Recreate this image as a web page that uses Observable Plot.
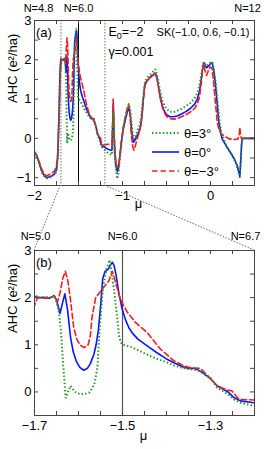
<!DOCTYPE html>
<html><head><meta charset="utf-8">
<script src="https://cdn.jsdelivr.net/npm/d3@7"></script>
<script src="https://cdn.jsdelivr.net/npm/@observablehq/plot@0.6"></script>
<style>
body{margin:0;background:#fff;}
#wrap{position:relative;width:266px;height:449px;}
#wrap svg{position:absolute;left:0;}
</style></head><body><div id="wrap"></div>
<script>
// ---- data: [mu, AHC] ----
const blue = [[-2.00,-0.35],[-1.97,-0.47],[-1.94,-0.68],[-1.91,-0.87],[-1.88,-0.97],[-1.86,-1.0],[-1.83,-0.98],[-1.80,-0.95],[-1.77,-0.9],[-1.75,-0.8],[-1.735,-0.45],[-1.72,0.7],[-1.71,1.7],[-1.70,2.02],
[-1.69,2.0],[-1.675,2.0],[-1.665,1.99],[-1.655,2.04],[-1.65,1.95],[-1.642,1.67],[-1.636,1.9],[-1.631,2.08],[-1.625,1.75],[-1.618,1.15],[-1.612,0.85],[-1.605,0.65],[-1.597,0.52],[-1.588,0.46],[-1.58,0.5],[-1.573,0.6],[-1.565,0.8],[-1.56,1.0],[-1.555,1.3],[-1.55,1.8],[-1.545,2.4],[-1.54,2.55],[-1.533,2.6],[-1.527,2.7],[-1.523,2.75],[-1.519,2.68],[-1.515,2.5],[-1.508,2.08],[-1.501,1.77],[-1.494,1.55],[-1.485,1.35],[-1.475,1.22],[-1.465,1.12],[-1.44,0.95],[-1.42,0.82],[-1.40,0.7],[-1.383,0.62],[-1.365,0.54],[-1.35,0.5],[-1.335,0.5],[-1.32,0.42],[-1.30,0.28],[-1.285,0.13],[-1.27,0.05],[-1.26,0.0],[-1.247,-0.12],[-1.232,-0.19],[-1.20,-0.23],
[-1.17,-0.27],[-1.14,-0.3],[-1.12,-0.3],[-1.112,0.3],[-1.105,0.9],[-1.098,0.3],[-1.088,-0.35],[-1.075,-0.7],[-1.058,-0.85],[-1.045,-0.75],[-1.03,-0.45],[-1.01,-0.05],[-0.99,0.25],[-0.965,0.5],[-0.945,0.68],[-0.925,0.78],[-0.91,0.55],[-0.895,0.15],[-0.875,-0.1],[-0.86,-0.05],[-0.84,0.05],[-0.815,0.15],[-0.795,0.3],[-0.78,0.55],[-0.765,0.95],[-0.75,1.3],[-0.735,1.42],[-0.715,1.48],[-0.69,1.55],[-0.66,1.6],[-0.63,1.66],[-0.61,1.55],[-0.59,1.3],[-0.57,1.05],[-0.55,0.85],[-0.53,0.72],[-0.5,0.6],[-0.46,0.55],[-0.42,0.55],[-0.38,0.57],[-0.33,0.62],[-0.28,0.68],[-0.23,0.76],[-0.18,0.87],[-0.15,1.0],[-0.125,1.2],[-0.105,1.5],[-0.088,1.8],[-0.076,1.93],[-0.06,1.85],[-0.042,1.8],[-0.02,1.85],[0.0,1.9],[0.019,1.93],[0.035,1.75],[0.055,1.4],[0.075,0.9],[0.095,0.41],[0.115,0.15],[0.133,-0.02],[0.18,-0.2],[0.227,-0.36],[0.27,-0.52],[0.303,-0.69],[0.322,-0.85],[0.333,-0.97],[0.343,-0.6],[0.352,-0.2],[0.36,0.0],[0.5,0.0]];

const green = [[-2.00,-0.36],[-1.97,-0.48],[-1.94,-0.7],[-1.91,-0.9],[-1.88,-0.99],[-1.86,-1.02],[-1.83,-1.0],[-1.80,-0.97],[-1.77,-0.92],[-1.75,-0.82],[-1.735,-0.45],[-1.72,0.7],[-1.71,1.7],[-1.70,2.05],
[-1.69,2.0],[-1.675,2.02],[-1.665,2.0],[-1.655,2.05],[-1.65,1.9],[-1.645,1.72],[-1.64,1.3],[-1.635,0.6],[-1.629,-0.13],[-1.624,0.0],[-1.618,0.13],[-1.61,0.02],[-1.603,-0.03],[-1.588,-0.05],[-1.575,-0.01],[-1.564,0.16],[-1.557,0.52],[-1.553,1.2],[-1.55,1.55],[-1.545,2.15],[-1.537,2.6],[-1.529,2.8],[-1.52,2.22],[-1.512,1.58],[-1.508,1.2],[-1.504,1.05],[-1.498,1.0],[-1.48,0.95],[-1.459,0.86],[-1.43,0.73],[-1.40,0.63],[-1.383,0.56],[-1.36,0.5],[-1.345,0.48],[-1.325,0.45],[-1.30,0.3],[-1.285,0.09],[-1.26,-0.05],[-1.247,-0.16],[-1.232,-0.23],[-1.20,-0.3],
[-1.17,-0.36],[-1.14,-0.4],[-1.12,-0.42],[-1.112,0.1],[-1.105,0.7],[-1.098,0.2],[-1.088,-0.4],[-1.075,-0.8],[-1.06,-1.03],[-1.045,-0.88],[-1.025,-0.4],[-1.005,0.0],[-0.985,0.35],[-0.96,0.6],[-0.94,0.78],[-0.925,0.85],[-0.91,0.7],[-0.895,0.35],[-0.88,0.05],[-0.87,-0.02],[-0.855,0.05],[-0.83,0.18],[-0.81,0.3],[-0.79,0.5],[-0.775,0.8],[-0.76,1.15],[-0.745,1.42],[-0.725,1.53],[-0.7,1.6],[-0.67,1.65],[-0.645,1.72],[-0.625,1.76],[-0.605,1.6],[-0.585,1.35],[-0.565,1.12],[-0.545,0.95],[-0.525,0.85],[-0.5,0.75],[-0.46,0.68],[-0.42,0.67],[-0.38,0.7],[-0.33,0.75],[-0.28,0.82],[-0.23,0.9],[-0.18,1.02],[-0.15,1.15],[-0.125,1.35],[-0.105,1.62],[-0.088,1.87],[-0.076,1.95],[-0.06,1.88],[-0.042,1.85],[-0.02,1.9],[0.0,1.93],[0.019,1.95],[0.035,1.8],[0.055,1.5],[0.075,1.05],[0.095,0.6],[0.114,0.24],[0.15,-0.02],[0.19,-0.23],[0.24,-0.42],[0.284,-0.61],[0.31,-0.8],[0.333,-1.0],[0.343,-0.6],[0.352,-0.2],[0.36,0.0],[0.5,0.0]];

const red = [[-2.00,-0.34],[-1.97,-0.45],[-1.94,-0.64],[-1.91,-0.83],[-1.88,-0.93],[-1.86,-0.95],[-1.83,-0.92],[-1.80,-0.88],[-1.77,-0.82],[-1.75,-0.7],[-1.735,-0.35],[-1.72,0.6],[-1.71,1.4],[-1.70,1.83],
[-1.693,2.0],[-1.675,1.99],[-1.665,2.0],[-1.655,2.03],[-1.648,1.9],[-1.642,2.1],[-1.636,2.4],[-1.630,2.56],[-1.624,2.35],[-1.618,1.94],[-1.611,1.37],[-1.604,1.12],[-1.596,0.99],[-1.587,0.94],[-1.578,1.0],[-1.573,1.2],[-1.569,1.6],[-1.561,2.0],[-1.546,2.18],[-1.531,2.36],[-1.523,2.56],[-1.516,2.33],[-1.505,1.97],[-1.489,1.69],[-1.47,1.47],[-1.444,1.26],[-1.414,0.91],[-1.383,0.66],[-1.36,0.55],[-1.345,0.51],[-1.323,0.5],[-1.305,0.33],[-1.285,0.13],[-1.265,0.05],[-1.251,0.02],[-1.239,-0.12],[-1.232,-0.16],[-1.2,-0.17],
[-1.17,-0.15],[-1.14,-0.15],[-1.12,-0.15],[-1.113,0.3],[-1.106,1.0],[-1.099,0.45],[-1.09,-0.15],[-1.077,-0.55],[-1.06,-0.75],[-1.045,-0.7],[-1.03,-0.45],[-1.012,-0.05],[-0.99,0.3],[-0.965,0.58],[-0.945,0.78],[-0.93,0.88],[-0.915,0.6],[-0.9,0.1],[-0.885,-0.2],[-0.87,-0.3],[-0.855,-0.2],[-0.835,-0.02],[-0.81,0.15],[-0.79,0.35],[-0.775,0.65],[-0.76,1.05],[-0.745,1.35],[-0.725,1.45],[-0.7,1.52],[-0.67,1.57],[-0.645,1.62],[-0.625,1.64],[-0.605,1.5],[-0.585,1.2],[-0.565,0.95],[-0.545,0.78],[-0.525,0.66],[-0.5,0.56],[-0.46,0.5],[-0.42,0.49],[-0.38,0.5],[-0.33,0.55],[-0.28,0.6],[-0.23,0.67],[-0.18,0.76],[-0.15,0.88],[-0.125,1.05],[-0.105,1.4],[-0.09,1.75],[-0.076,1.9],[-0.062,1.72],[-0.045,1.6],[-0.025,1.72],[-0.005,1.82],[0.015,1.8],[0.03,1.55],[0.05,1.05],[0.065,0.7],[0.076,0.41],[0.1,0.2],[0.125,0.1],[0.151,0.07],[0.2,0.0],[0.25,-0.03],[0.31,-0.02],[0.325,0.06],[0.333,0.28],[0.34,0.12],[0.35,0.0],[0.5,0.0]];

const seriesNames = ["θ=3°", "θ=0°", "θ=−3°"];
const xTicksA = [-2,-1.75,-1.5,-1.25,-1,-0.75,-0.5,-0.25,0,0.25,0.5];
const xLabelsA = [-2,-1,0];
const yTicksA = [-1,-0.5,0,0.5,1,1.5,2,2.5,3];
const yLabelsA = [-1,0,1,2,3];
const xTicksB = [-1.7,-1.65,-1.6,-1.55,-1.5,-1.45,-1.4,-1.35,-1.3,-1.25,-1.2];
const xLabelsB = [-1.7,-1.5,-1.3];
const yTicksB = [-0.5,0,0.5,1,1.5,2,2.5,3];
const yLabelsB = [0,1,2,3];
const zoomRange = [-1.7, -1.2];
const fermiMu = [-1.5];
const nLabelsA = [{mu:-2, t:"N=4.8"},{mu:-1.5, t:"N=6.0"},{mu:0.5, t:"N=12"}];
const nLabelsB = [{mu:-1.7, t:"N=5.0"},{mu:-1.5, t:"N=6.0"},{mu:-1.2, t:"N=6.7"}];

// ---- styles ----
const font = '"Liberation Sans", Arial, Helvetica, sans-serif';
const C = {green:"#1e961e", blue:"#0a14ff", red:"#ff1a1a", frame:"#444"};
const DASH = {green: "1.4,2.2", red: "5.5,3"};
const W = 266, ML = 34, MR = 12;
const rows = a => a.map(([mu, v]) => ({mu, v}));

function curves() {
  return [
    Plot.line(rows(blue), {x:"mu", y:"v", stroke:C.blue, strokeWidth:1.6, clip:true}),
    Plot.line(rows(red), {x:"mu", y:"v", stroke:C.red, strokeWidth:1.6, strokeDasharray:DASH.red, clip:true}),
    Plot.line(rows(green), {x:"mu", y:"v", stroke:C.green, strokeWidth:2, strokeDasharray:DASH.green, strokeLinecap:"butt", strokeLinejoin:"miter", clip:true})
  ];
}

function panel(o) {
  const fw = W - ML - MR, fh = o.height - o.marginTop - o.marginBottom;
  return Plot.plot({
    width: W, height: o.height, marginLeft: ML, marginRight: MR,
    marginTop: o.marginTop, marginBottom: o.marginBottom,
    style: {fontFamily: font, fontSize: "13px", background: "transparent", color: "#000", overflow: "visible"},
    x: {domain: o.xDomain}, y: {domain: o.yDomain},
    marks: [
      ...o.guides,
      ...curves(),
      Plot.frame({stroke: C.frame}),
      Plot.ruleX(o.xTicks, {insetTop: fh - 4, stroke: C.frame}),
      Plot.ruleX(o.xTicks, {insetBottom: fh - 4, stroke: C.frame}),
      Plot.ruleY(o.yTicks, {insetRight: fw - 4, stroke: C.frame}),
      Plot.ruleY(o.yTicks, {insetLeft: fw - 4, stroke: C.frame}),
      Plot.axisX(o.xLabels, {tickSize: 0, tickPadding: 5, label: null, fontSize: 13}),
      Plot.axisY(o.yLabels, {tickSize: 0, tickPadding: 3, label: null, fontSize: 13}),
      Plot.text(["AHC (e²/ha)"], {frameAnchor: "left", rotate: -90, dx: -22, fontSize: 13}),
      Plot.text(["μ"], {frameAnchor: "bottom", dy: o.muDy, dx: o.muDx, fontSize: 13}),
      Plot.text([o.tag], {frameAnchor: "top-left", textAnchor: "start", lineAnchor: "bottom", dx: 1.5, dy: 16.5, fontSize: 13}),
      ...o.nLabels.map((d, i) => Plot.text([d], {x: "mu", text: "t", frameAnchor: "top", lineAnchor: "bottom", dy: o.nDy, dx: o.nDx[i], fontSize: 11})),
      ...o.extra
    ]
  });
}

const plotA = panel({
  height: 225, marginTop: 20, marginBottom: 40,
  xDomain: [-2, 0.5], yDomain: [-1.2, 3],
  xTicks: xTicksA, xLabels: xLabelsA, yTicks: yTicksA, yLabels: yLabelsA,
  muDy: 22, muDx: -6, tag: "(a)", nLabels: nLabelsA, nDy: -9, nDx: [4, 0, -7],
  guides: [
    Plot.ruleX(zoomRange, {stroke: "#888", strokeWidth: 1.2, strokeDasharray: "1.5,1.5"}),
    Plot.ruleX(fermiMu, {stroke: "#000", strokeWidth: 1})
  ],
  extra: [
    Plot.text(["E₀=−2"], {frameAnchor: "top-left", textAnchor: "start", lineAnchor: "bottom", dx: 74, dy: 15, fontSize: 12.5}),
    Plot.text(["γ=0.001"], {frameAnchor: "top-left", textAnchor: "start", lineAnchor: "bottom", dx: 74, dy: 35, fontSize: 12.5}),
    Plot.text(["SK(−1.0, 0.6, −0.1)"], {frameAnchor: "top-right", textAnchor: "end", lineAnchor: "bottom", dx: -5, dy: 15, fontSize: 11})
  ]
});

const plotB = panel({
  height: 224, marginTop: 25, marginBottom: 34,
  xDomain: zoomRange, yDomain: [-0.5, 3],
  xTicks: xTicksB, xLabels: xLabelsB, yTicks: yTicksB, yLabels: yLabelsB,
  muDy: 24, muDx: -1, tag: "(b)", nLabels: nLabelsB, nDy: -11, nDx: [1, 0, -9],
  guides: [Plot.ruleX(fermiMu, {stroke: "#555", strokeWidth: 1.2})],
  extra: []
});

const wrap = document.getElementById("wrap");
const TOPB = 225;
plotA.style.top = "0px";
plotB.style.top = TOPB + "px";
wrap.appendChild(plotA);
wrap.appendChild(plotB);

// subscript for E0
d3.select(plotA).selectAll("text").filter(function(){ return this.textContent === "E₀=−2"; })
  .each(function(){
    const t = d3.select(this); t.text("");
    t.append("tspan").text("E");
    t.append("tspan").attr("dy", 3).attr("font-size", 9).text("0");
    t.append("tspan").attr("dy", -3).text("=−2");
  });

// overlay: zoom connectors + legend
const xA = plotA.scale("x"), yA = plotA.scale("y"), xB = plotB.scale("x"), yB = plotB.scale("y");
const ov = d3.select(wrap).append("svg").attr("width", W).attr("height", 449)
  .style("top", "0px").style("pointer-events", "none")
  .style("font-family", font);
const yBotA = yA.apply(yA.domain[0]);
const yTopB = yB.apply(yB.domain[1]) + TOPB;
zoomRange.forEach(m => {
  ov.append("line")
    .attr("x1", xA.apply(m)).attr("y1", yBotA)
    .attr("x2", xB.apply(m)).attr("y2", yTopB)
    .attr("stroke", "#666").attr("stroke-width", 1).attr("stroke-dasharray", "1.5,1.5");
});
const legendStyles = [
  {stroke: C.green, w: 2, dash: DASH.green},
  {stroke: C.blue, w: 1.6, dash: null},
  {stroke: C.red, w: 1.6, dash: DASH.red}
];
const legY = [133, 152, 171];
seriesNames.forEach((name, i) => {
  const s = legendStyles[i];
  ov.append("line").attr("x1", 152).attr("x2", 179).attr("y1", legY[i]).attr("y2", legY[i])
    .attr("stroke", s.stroke).attr("stroke-width", s.w).attr("stroke-dasharray", s.dash);
  ov.append("text").attr("x", 184).attr("y", legY[i] + 4.5).attr("font-size", 13).text(name);
});
</script></body></html>
